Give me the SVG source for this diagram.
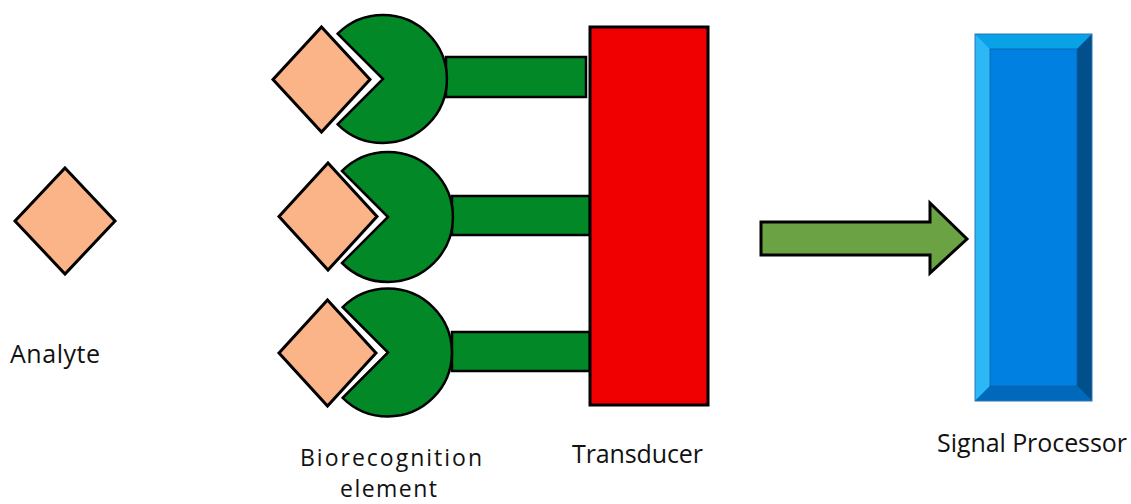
<svg xmlns="http://www.w3.org/2000/svg" width="1131" height="504" viewBox="0 0 1131 504">
<style>
.analyte{fill:#fbb487;stroke:#000;stroke-width:3;stroke-linejoin:miter}
.green{fill:#038827;stroke:#000;stroke-width:2.5}
.lbl{font-family:"Open Sans","Liberation Sans",sans-serif;font-size:25px;fill:#111}
.lbl2{font-size:23px}
</style>
<rect width="1131" height="504" fill="#fff"/>
<g id="analyte">
<polygon class="analyte" points="65,168 115,221 65,274 15,221"/>
<text class="lbl" x="10" y="363" textLength="90">Analyte</text>
</g>
<g id="receptor-1">
<rect class="green" x="446" y="57" width="140" height="40"/>
<path class="green" d="M383,79 L337.7,33.7 A64,64 0 1 1 337.7,124.3 Z"/>
<polygon class="analyte" points="321.5,27 370,79.5 321.5,132 273,79.5"/>
</g>
<g id="receptor-2">
<rect class="green" x="452" y="196" width="138" height="39"/>
<path class="green" d="M388,217 L342,171 A65,65 0 1 1 342,263 Z"/>
<polygon class="analyte" points="328,163 377,216.5 328,270 279,216.5"/>
</g>
<g id="receptor-3">
<rect class="green" x="452" y="332" width="138" height="39"/>
<path class="green" d="M388,352.5 L342.7,307.2 A64,64 0 1 1 342.7,397.8 Z"/>
<polygon class="analyte" points="327.5,300 376,353 327.5,406 279,353"/>
</g>
<g id="biorecognition-label">
<text class="lbl lbl2" x="300" y="466" textLength="182">Biorecognition</text>
<text class="lbl lbl2" x="340" y="497" textLength="97">element</text>
</g>
<g id="transducer">
<rect x="590" y="27" width="118" height="378" fill="#f00000" stroke="#000" stroke-width="3"/>
<text class="lbl" x="572" y="463" textLength="131">Transducer</text>
</g>
<g id="signal-processor">
<rect x="975" y="34" width="117" height="367" fill="#0080e0"/>
<polygon points="975,34 1092,34 1077,49 990,49" fill="#0aa2e6"/>
<polygon points="975,34 990,49 990,386 975,401" fill="#2cb8f4"/>
<polygon points="1092,34 1092,401 1077,386 1077,49" fill="#01508c"/>
<polygon points="975,401 990,386 1077,386 1092,401" fill="#0069bb"/>
<rect x="990" y="49" width="87" height="337" fill="#0080e0" stroke="#0b5fa8" stroke-width="0.8"/>
<rect x="975" y="34" width="117" height="367" fill="none" stroke="#2e74b5" stroke-width="1"/>
<text class="lbl" x="937" y="452" textLength="190">Signal Processor</text>
</g>
<g id="connectors">
<polygon points="761,222 930,222 930,203 967,239 930,273 930,255 761,255" fill="#6aa244" stroke="#000" stroke-width="3" stroke-linejoin="miter"/>
</g>
</svg>
